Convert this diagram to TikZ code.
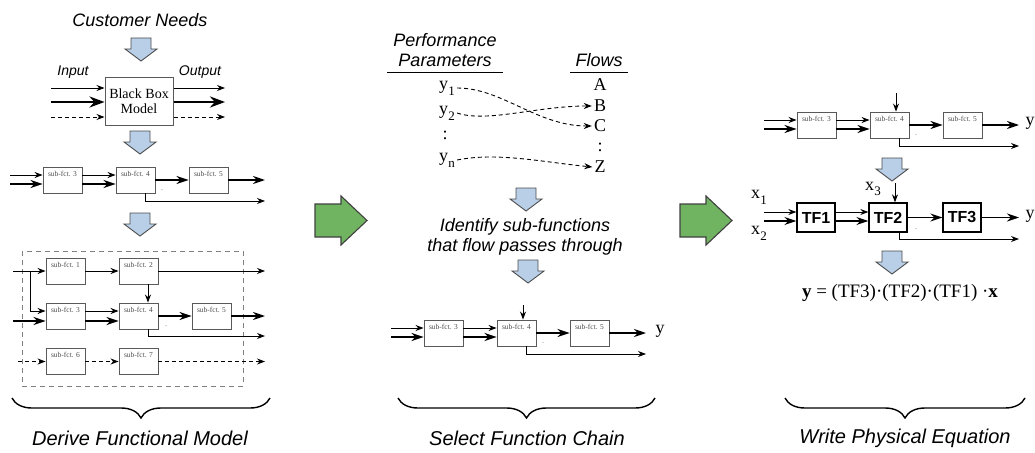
\documentclass[tikz,border=0pt]{standalone}
\usepackage{fontspec}
\setmainfont{Liberation Serif}
\setsansfont{Liberation Sans}
\usetikzlibrary{arrows.meta,positioning,calc,decorations.pathreplacing}
\definecolor{stepBlue}{RGB}{184,207,231}
\definecolor{stepGreen}{RGB}{112,180,98}
\colorlet{boxGray}{black!65}
\colorlet{fctText}{black!70}
\newcommand{\lowsub}[2]{#1\kern0.3pt\raisebox{-0.32em}{\fontsize{13}{13}\selectfont #2}}

\begin{document}
\begin{tikzpicture}[x=1pt,y=-1pt,
    fct/.style={draw=boxGray,line width=0.9pt,minimum width=39pt,minimum height=26pt,inner sep=0pt},
    fctname/.style={anchor=north,yshift=-3pt,inner sep=1pt,font=\fontsize{7.5}{8}\selectfont,text=fctText},
    tfbox/.style={draw=black,line width=1.3pt,minimum width=38pt,minimum height=29pt,inner sep=0pt,
      font=\sffamily\bfseries\fontsize{16}{18}\selectfont},
    bbox/.style={draw=boxGray,line width=1pt,minimum width=68pt,minimum height=48pt,align=center,
      font=\fontsize{14}{15}\selectfont},
    bigit/.style={font=\sffamily\itshape\fontsize{18}{20}\selectfont,align=center},
    midit/.style={font=\sffamily\itshape\fontsize{14}{16}\selectfont},
    bracelbl/.style={font=\sffamily\itshape\fontsize{20}{22}\selectfont},
    sym/.style={font=\fontsize{18}{20}\selectfont,inner sep=2pt},
    dotmark/.style={font=\fontsize{6}{6}\selectfont,inner sep=0pt},
    thinarr/.style={draw=black,line width=0.9pt,-{Stealth[length=8pt,width=6pt]}},
    thickarr/.style={draw=black,line width=1.8pt,-{Stealth[length=12pt,width=8pt]}},
    heavyarr/.style={draw=black,line width=2.6pt,-{Stealth[length=15pt,width=11pt]}},
    dasharr/.style={draw=black,line width=0.9pt,dash pattern=on 4pt off 3pt,-{Stealth[length=8pt,width=6pt]}},
    frame/.style={draw=black!50,line width=0.8pt,dash pattern=on 5pt off 4pt},
    rule/.style={draw=black,line width=0.9pt},
    bluedown/.style={draw=black!70,line width=0.9pt,fill=stepBlue},
    greenright/.style={draw=black!75,line width=1.1pt,fill=stepGreen},
    brace/.style={draw=black,line width=1.4pt,decoration={brace,mirror,amplitude=20pt},decorate}
  ]
  \useasboundingbox (0,0) rectangle (1035,452);

  % step arrows
  \foreach \cx/\ty in {141/38, 140/131, 140/213, 526/188, 528/260, 892/158, 892/251}
    \draw[bluedown] (\cx-10,\ty) -- (\cx+10,\ty) -- (\cx+10,\ty+11) -- (\cx+16,\ty+11)
      -- (\cx,\ty+23) -- (\cx-16,\ty+11) -- (\cx-10,\ty+11) -- cycle;
  \foreach \gx in {315,680}
    \draw[greenright] (\gx,204) -- (\gx+26,204) -- (\gx+26,196) -- (\gx+52,220.5)
      -- (\gx+26,245) -- (\gx+26,237) -- (\gx,237) -- cycle;

  % black box
  \node[bigit] (needs) at (140,20) {Customer Needs};
  \node[bbox] (bb) at (139,101) {Black Box\\Model};
  \node[midit] (inlbl) at (73,72) {Input};
  \node[midit] (outlbl) at (200,72) {Output};
  \coordinate (bi1) at (51,88);
  \coordinate (bi2) at (51,102);
  \coordinate (bi3) at (51,117);
  \coordinate (bo1) at (225,88);
  \coordinate (bo2) at (225,102);
  \coordinate (bo3) at (225,117);
  \draw[thinarr] (bi1) -- (bi1 -| bb.west);
  \draw[heavyarr] (bi2) -- (bi2 -| bb.west);
  \draw[dasharr] (bi3) -- (bi3 -| bb.west);
  \draw[thinarr] (bo1 -| bb.east) -- (bo1);
  \draw[heavyarr] (bo2 -| bb.east) -- (bo2);
  \draw[dasharr] (bo3 -| bb.east) -- (bo3);

  % first chain
  \node[fct,label={[fctname]90:sub-fct. 3}] (c3) at (62.5,180) {};
  \node[fct,label={[fctname]90:sub-fct. 4}] (c4) at (135.5,180) {};
  \node[fct,label={[fctname]90:sub-fct. 5}] (c5) at (208.5,180) {};
  \node[dotmark] (cdot) at (162,190) {.};
  \coordinate (ca) at (10,175);
  \coordinate (cb) at (10,184);
  \coordinate (cc) at (265,180);
  \coordinate (cd) at (265,201);
  \draw[thinarr] (ca) -- (ca -| c3.west);
  \draw[thickarr] (cb) -- (cb -| c3.west);
  \draw[thinarr] (c3.east |- ca) -- (c4.west |- ca);
  \draw[thickarr] (c3.east |- cb) -- (c4.west |- cb);
  \draw[thickarr] (c4.east) -- (c5.west);
  \draw[thickarr] (c5.east) -- (cc);
  \draw[thinarr] ([xshift=9.5pt]c4.south) |- (cd);

  % functional model
  \draw[frame] (22,251) rectangle (243,386);
  \node[fct,label={[fctname]90:sub-fct. 1}] (f1) at (65.5,271) {};
  \node[fct,label={[fctname]90:sub-fct. 2}] (f2) at (138.5,271) {};
  \node[fct,label={[fctname]90:sub-fct. 3}] (f3) at (65.5,316) {};
  \node[fct,label={[fctname]90:sub-fct. 4}] (f4) at (138.5,316) {};
  \node[fct,label={[fctname]90:sub-fct. 5}] (f5) at (211.5,316) {};
  \node[fct,label={[fctname]90:sub-fct. 6}] (f6) at (65.5,361.5) {};
  \node[fct,label={[fctname]90:sub-fct. 7}] (f7) at (138.5,361.5) {};
  \node[dotmark] (fdot) at (166,326) {.};
  \coordinate (fa) at (13,271);
  \coordinate (fsplit) at (30,271);
  \coordinate (frow) at (0,311);
  \coordinate (fb) at (13,321);
  \coordinate (fc) at (265,271);
  \coordinate (fd) at (265,316);
  \coordinate (fe) at (265,336);
  \coordinate (ff) at (18,361.5);
  \coordinate (fg) at (265,361.5);
  \draw[thinarr] (fa) -- (fa -| f1.west);
  \draw[thinarr] (fsplit) |- (f3.west |- frow);
  \draw[thickarr] (fb) -- (fb -| f3.west);
  \draw[thinarr] (f1.east) -- (f2.west);
  \draw[thinarr] (f2.east) -- (fc);
  \draw[thinarr] ([xshift=9.5pt]f2.south) -- ([xshift=9.5pt]f4.north);
  \draw[thinarr] (f3.east |- frow) -- (f4.west |- frow);
  \draw[thickarr] (f3.east |- fb) -- (f4.west |- fb);
  \draw[thickarr] (f4.east) -- (f5.west);
  \draw[thickarr] (f5.east) -- (fd);
  \draw[thinarr] ([xshift=9.5pt]f4.south) |- (fe);
  \draw[dasharr] (ff) -- (ff -| f6.west);
  \draw[dasharr] (f6.east) -- (f7.west);
  \draw[dasharr] (f7.east) -- (fg);

  \draw[brace] (12,398) -- (270,398);
  \node[bracelbl] (derive) at (140,438) {Derive Functional Model};

  % parameters and flows
  \node[bigit] (perf) at (445,50) {Performance\\Parameters};
  \node[bigit] (flows) at (599,60) {Flows};
  \draw[rule] (387,72) -- (503,72);
  \draw[rule] (570,72) -- (628,72);
  \node[sym] (y1) at (447,88) {\lowsub{y}{1}};
  \node[sym] (y2) at (447,113) {\lowsub{y}{2}};
  \node[sym] (yv) at (445,135) {:};
  \node[sym] (yn) at (447,160) {\lowsub{y}{n}};
  \node[sym] (A) at (600,85) {A};
  \node[sym] (B) at (600,106) {B};
  \node[sym] (C) at (600,126) {C};
  \node[sym] (zv) at (600,147) {:};
  \node[sym] (Z) at (600,167) {Z};
  \draw[dasharr] (y1.east) .. controls +(45,0) and +(-55,0) .. (C.west);
  \draw[dasharr] (y2.east) .. controls +(30,10) and +(-55,0) .. (B.west);
  \draw[dasharr] (yn.east) .. controls +(40,-8) and +(-50,-5) .. (Z.west);

  \node[bigit] (ident) at (525,237) {Identify sub-functions\\that flow passes through};

  % selected chain
  \node[fct,label={[fctname]90:sub-fct. 3}] (m3) at (443.5,333) {};
  \node[fct,label={[fctname]90:sub-fct. 4}] (m4) at (516.5,333) {};
  \node[fct,label={[fctname]90:sub-fct. 5}] (m5) at (589.5,333) {};
  \node[dotmark] (mdot) at (543,343) {.};
  \node[sym] (my) at (660,331) {y};
  \coordinate (ma) at (391,328);
  \coordinate (mb) at (391,337);
  \coordinate (mc) at (646,333);
  \coordinate (md) at (646,354);
  \coordinate (mtop) at (523,305);
  \draw[thinarr] (ma) -- (ma -| m3.west);
  \draw[thickarr] (mb) -- (mb -| m3.west);
  \draw[thinarr] (m3.east |- ma) -- (m4.west |- ma);
  \draw[thickarr] (m3.east |- mb) -- (m4.west |- mb);
  \draw[thickarr] (m4.east) -- (m5.west);
  \draw[thickarr] (m5.east) -- (mc);
  \draw[thinarr] ([xshift=9.5pt]m4.south) |- (md);
  \draw[thinarr] (mtop) -- (mtop |- m4.north);

  \draw[brace] (398,398) -- (655,398);
  \node[bracelbl] (select) at (527,438) {Select Function Chain};

  % physical chain
  \node[fct,label={[fctname]90:sub-fct. 3}] (r3) at (816.5,125) {};
  \node[fct,label={[fctname]90:sub-fct. 4}] (r4) at (889.5,125) {};
  \node[fct,label={[fctname]90:sub-fct. 5}] (r5) at (962.5,125) {};
  \node[dotmark] (rdot) at (916,135) {.};
  \node[sym] (ry) at (1030,123) {y};
  \coordinate (ra) at (764,120);
  \coordinate (rb) at (764,129);
  \coordinate (rc) at (1019,125);
  \coordinate (rd) at (1019,146);
  \coordinate (rtop) at (896,93);
  \draw[thinarr] (ra) -- (ra -| r3.west);
  \draw[thickarr] (rb) -- (rb -| r3.west);
  \draw[thinarr] (r3.east |- ra) -- (r4.west |- ra);
  \draw[thickarr] (r3.east |- rb) -- (r4.west |- rb);
  \draw[thickarr] (r4.east) -- (r5.west);
  \draw[thickarr] (r5.east) -- (rc);
  \draw[thinarr] ([xshift=9.5pt]r4.south) |- (rd);
  \draw[thinarr] (rtop) -- (rtop |- r4.north);

  \node[tfbox] (t1) at (816,217.5) {TF1};
  \node[tfbox] (t2) at (888,217.5) {TF2};
  \node[tfbox] (t3) at (962,217.5) {TF3};
  \node[dotmark] (tdot) at (916,229) {.};
  \node[sym] (x1) at (759,197) {\lowsub{x}{1}};
  \node[sym] (x2) at (759,233) {\lowsub{x}{2}};
  \node[sym] (x3) at (873,189) {\lowsub{x}{3}};
  \node[sym] (ty) at (1030,216) {y};
  \coordinate (ta) at (764,212);
  \coordinate (tb) at (764,221);
  \coordinate (tc) at (1019,217.5);
  \coordinate (td) at (1019,239);
  \coordinate (ttop) at (895,183);
  \draw[thinarr] (ta) -- (ta -| t1.west);
  \draw[thickarr] (tb) -- (tb -| t1.west);
  \draw[thinarr] (t1.east |- ta) -- (t2.west |- ta);
  \draw[thickarr] (t1.east |- tb) -- (t2.west |- tb);
  \draw[thickarr] (t2.east) -- (t3.west);
  \draw[thickarr] (t3.east) -- (tc);
  \draw[thinarr] ([xshift=11pt]t2.south) |- (td);
  \draw[thinarr] (ttop) -- (ttop |- t2.north);

  \node[font=\fontsize{19}{21}\selectfont] (eqn) at (900,293)
    {\textbf{y} = (TF3)·(TF2)·(TF1) ·\textbf{x}};

  \draw[brace] (785,398) -- (1025,398);
  \node[bracelbl] (write) at (905,438) {Write Physical Equation};
\end{tikzpicture}
\end{document}
